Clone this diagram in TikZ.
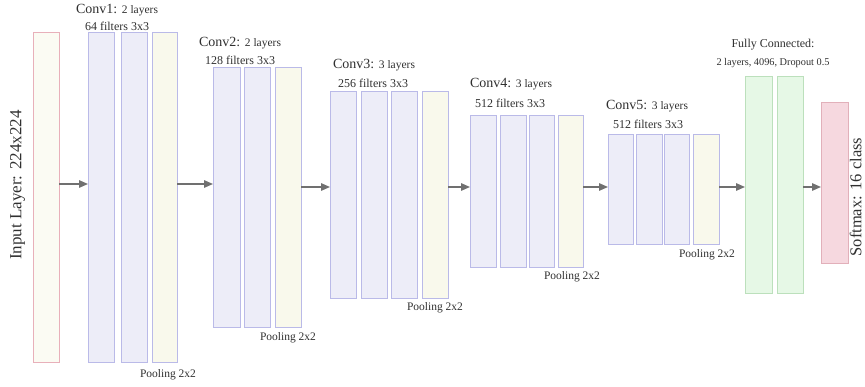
\documentclass[tikz,border=0pt]{standalone}
\usepackage{fontspec}
\setmainfont{Liberation Serif}
\usetikzlibrary{arrows.meta}
\definecolor{convfill}{HTML}{EDEDF8}
\definecolor{convdraw}{HTML}{BABAE8}
\definecolor{poolfill}{HTML}{F9F9EC}
\definecolor{infill}{HTML}{FBFBF3}
\definecolor{indraw}{HTML}{E8B0BA}
\definecolor{fcfill}{HTML}{E6F8E6}
\definecolor{fcdraw}{HTML}{BCE0BC}
\definecolor{smfill}{HTML}{F6D8DF}
\definecolor{smdraw}{HTML}{E2B0BA}
\definecolor{txt}{HTML}{303030}
\definecolor{arrcol}{HTML}{707070}
\begin{document}
\begin{tikzpicture}[x=1pt,y=-1pt,
  layer/.style={rectangle,inner sep=0pt,outer sep=0pt,line width=1pt,anchor=north west},
  convbox/.style={layer,fill=convfill,draw=convdraw},
  poolbox/.style={layer,fill=poolfill,draw=convdraw},
  inbox/.style={layer,fill=infill,draw=indraw},
  fcbox/.style={layer,fill=fcfill,draw=fcdraw},
  smbox/.style={layer,fill=smfill,draw=smdraw},
  arr/.style={draw=arrcol,line width=1.4pt,-{Triangle[length=9pt,width=7.5pt]},arrcol},
  title/.style={text=txt,inner sep=0pt,font=\fontsize{14}{14}\selectfont},
  sub/.style={text=txt,inner sep=0pt,font=\fontsize{12}{12}\selectfont},
  pool/.style={text=txt,inner sep=0pt,font=\fontsize{11.5}{12}\selectfont},
  side/.style={text=txt,inner sep=0pt,rotate=90,anchor=north,font=\fontsize{17}{18}\selectfont}
]
\useasboundingbox (0,0) rectangle (865,387);
% helper for box geometry
\def\lay#1#2#3#4#5#6{\node[#1,minimum width=#4-#3,minimum height=#6-#5] (#2) at (#3,#5) {};}
% input
\lay{inbox}{in}{33}{59}{33}{363}
% conv1
\lay{convbox}{c1a}{88}{114}{33}{363}
\lay{convbox}{c1b}{121}{147}{33}{363}
\lay{poolbox}{c1p}{152}{177}{33}{363}
% conv2
\lay{convbox}{c2a}{213}{240}{68}{328}
\lay{convbox}{c2b}{244}{270}{68}{328}
\lay{poolbox}{c2p}{275}{301}{68}{328}
% conv3
\lay{convbox}{c3a}{330}{356}{92}{299}
\lay{convbox}{c3b}{361}{387}{92}{299}
\lay{convbox}{c3c}{391}{417}{92}{299}
\lay{poolbox}{c3p}{422}{448}{92}{299}
% conv4
\lay{convbox}{c4a}{470}{496}{116}{268}
\lay{convbox}{c4b}{500}{526}{116}{268}
\lay{convbox}{c4c}{529}{554}{116}{268}
\lay{poolbox}{c4p}{558}{583}{116}{268}
% conv5
\lay{convbox}{c5a}{608}{633}{135}{245}
\lay{convbox}{c5b}{636}{662}{135}{245}
\lay{convbox}{c5c}{664}{689}{135}{245}
\lay{poolbox}{c5p}{693}{719}{135}{245}
% fully connected
\lay{fcbox}{fc1}{745}{772}{77}{294}
\lay{fcbox}{fc2}{777}{803}{77}{294}
% softmax
\lay{smbox}{sm}{821}{848}{103}{264}

% arrows
\coordinate (ya) at (0,184);
\coordinate (yb) at (0,187);
\draw[arr] (in.east |- ya) -- (c1a.west |- ya);
\draw[arr] (c1p.east |- ya) -- (c2a.west |- ya);
\draw[arr] (c2p.east |- yb) -- (c3a.west |- yb);
\draw[arr] (c3p.east |- yb) -- (c4a.west |- yb);
\draw[arr] (c4p.east |- yb) -- (c5a.west |- yb);
\draw[arr] (c5p.east |- yb) -- (fc1.west |- yb);
\draw[arr] (fc2.east |- yb) -- (sm.west |- yb);

% side labels
\node[side] (inlab) at (10,185) {Input Layer: 224x224};
\node[side,font=\fontsize{16.5}{18}\selectfont] (smlab) at (849.5,197) {Softmax: 16 class};

% block labels
\node[title] (t1) at (117,10) {Conv1: {\fontsize{11.5}{12}\selectfont 2 layers}};
\node[sub] (s1) at (117,26) {64 filters 3x3};
\node[pool] (p1) at (168,375) {Pooling 2x2};

\node[title] (t2) at (240,43) {Conv2: {\fontsize{11.5}{12}\selectfont 2 layers}};
\node[sub] (s2) at (240,60) {128 filters 3x3};
\node[pool] (p2) at (288,338) {Pooling 2x2};

\node[title] (t3) at (374,65) {Conv3: {\fontsize{11.5}{12}\selectfont 3 layers}};
\node[sub] (s3) at (373,83) {256 filters 3x3};
\node[pool] (p3) at (435,308) {Pooling 2x2};

\node[title] (t4) at (511,84) {Conv4: {\fontsize{11.5}{12}\selectfont 3 layers}};
\node[sub] (s4) at (510,103) {512 filters 3x3};
\node[pool] (p4) at (572,277) {Pooling 2x2};

\node[title] (t5) at (647,106) {Conv5: {\fontsize{11.5}{12}\selectfont 3 layers}};
\node[sub] (s5) at (648,124) {512 filters 3x3};
\node[pool] (p5) at (707,255) {Pooling 2x2};

\node[sub] (tf) at (773,45) {Fully Connected:};
\node[text=txt,inner sep=0pt,font=\fontsize{10.3}{11}\selectfont] (sf) at (773,63) {2 layers, 4096, Dropout 0.5};
\end{tikzpicture}
\end{document}
